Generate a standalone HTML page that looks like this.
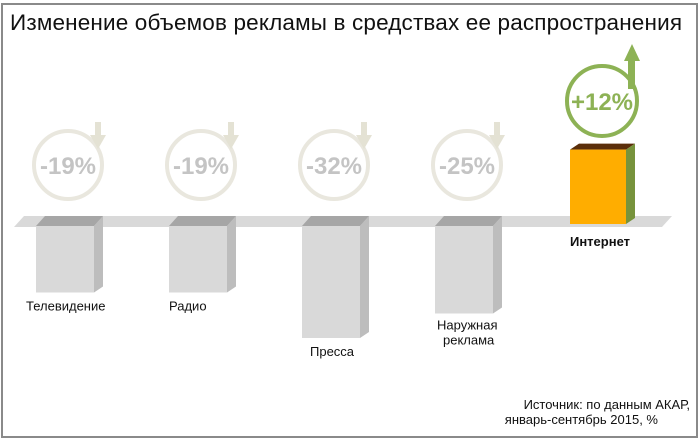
<!DOCTYPE html>
<html><head><meta charset="utf-8"><style>
body{margin:0;background:#fff}
svg{display:block}
text{font-family:"Liberation Sans","DejaVu Sans",sans-serif}
</style></head><body>
<svg width="700" height="440" viewBox="0 0 700 440">
<rect x="2" y="4" width="695" height="433" fill="#fff" stroke="#8a8a8a" stroke-width="2"/>
<text x="10" y="30" font-size="22.5" fill="#111" textLength="672">Изменение объемов рекламы в средствах ее распространения</text>
<polygon points="24,216 672,216 662,227 14,227" fill="#d9d9d9"/>
<g id="marks"></g>
<text x="690" y="409" font-size="13" fill="#111" text-anchor="end">Источник: по данным АКАР,</text>
<text x="658" y="424" font-size="13" fill="#111" text-anchor="end">январь-сентябрь 2015, %</text>
</svg>
<script>
const categories = ["Телевидение","Радио","Пресса","Наружная реклама","Интернет"];
const values = [-19,-19,-32,-25,12];
const valueLabels = ["-19%","-19%","-32%","-25%","+12%"];

const NS="http://www.w3.org/2000/svg";
const g=document.getElementById('marks');
const x0=36, step=133, bw=58, depth=9;
const baseNeg=226, basePos=224;
function yNeg(v){return baseNeg + (-v)*3.5;}
function yPos(v){return basePos - v*6.2;}
function mk(tag,attrs,parent){const e=document.createElementNS(NS,tag);for(const k in attrs)e.setAttribute(k,attrs[k]);(parent||g).appendChild(e);return e;}

categories.forEach((c,i)=>{
  const v=values[i];
  const x=(i===4)?570:x0+i*step;
  const cx=x+bw/2;
  const grp=mk('g',{});
  
  
  if(v<0){
    const yb=yNeg(v);
    const top=mk('polygon',{points:`${x},${baseNeg} ${x+bw},${baseNeg} ${x+bw+depth},${baseNeg-10} ${x+depth},${baseNeg-10}`,fill:'#a6a6a6'},grp);
    
    
    const side=mk('polygon',{points:`${x+bw},${baseNeg} ${x+bw+depth},${baseNeg-10} ${x+bw+depth},${yb-6} ${x+bw},${yb}`,fill:'#bdbdbd'},grp);
    
    
    const front=mk('rect',{x:x,y:baseNeg,width:bw,height:yb-baseNeg,fill:'#d9d9d9'},grp);
    
    
    const lines=c.split(' ');
    const lx = (i===0)?x-10:x;
    const lbl=mk('text',{x:(i===3)?x+4:lx, y:yb+18,'font-size':13,fill:'#111'},grp);
    
    
    if(lines.length>1){
      lines.forEach((l,j)=>{const t=mk('tspan',{x:(j===0)?x+2:x+8,dy:j===0?0:15},lbl);t.textContent=l;});
      lbl.setAttribute('y',yb+16);
    } else lbl.textContent=c;
    if(i===2) lbl.setAttribute('x',x+8);
    const ccx=cx+3, ccy=165, r=34;
    const circ=mk('circle',{cx:ccx,cy:ccy,r:r,fill:'none',stroke:'#e9e7de','stroke-width':4},grp);
    
    
    const ar=mk('polygon',{points:`${ccx+27},${ccy-43} ${ccx+33},${ccy-43} ${ccx+33},${ccy-30} ${ccx+38},${ccy-30} ${ccx+30},${ccy-16} ${ccx+22},${ccy-30} ${ccx+27},${ccy-30}`,fill:'#e4e2d4'},grp);
    
    
    const t=mk('text',{x:ccx,y:ccy+9,'font-size':24,'font-weight':'bold',fill:'#c4c4c4','text-anchor':'middle'},grp);
    
    
    t.textContent=valueLabels[i];
  } else {
    const yt=yPos(v), w=56;
    const top=mk('polygon',{points:`${x},${yt} ${x+w},${yt} ${x+w+9},${yt-6} ${x+9},${yt-6}`,fill:'#5a2e0a'},grp);
    
    
    const side=mk('polygon',{points:`${x+w},${yt} ${x+w+9},${yt-6} ${x+w+9},${basePos-6} ${x+w},${basePos}`,fill:'#77933c'},grp);
    
    
    const front=mk('rect',{x:x,y:yt,width:w,height:basePos-yt,fill:'#ffad00'},grp);
    
    
    const lbl=mk('text',{x:x+30,y:246,'font-size':13,'font-weight':'bold',fill:'#111','text-anchor':'middle'},grp);
    
    
    lbl.textContent=c;
    const ccx=602, ccy=101, r=35;
    const circ=mk('circle',{cx:ccx,cy:ccy,r:r,fill:'none',stroke:'#8db255','stroke-width':4},grp);
    
    
    const ar=mk('polygon',{points:`${ccx+26},${ccy-12} ${ccx+33},${ccy-12} ${ccx+33},${ccy-40} ${ccx+38},${ccy-40} ${ccx+30},${ccy-57} ${ccx+22},${ccy-40} ${ccx+26},${ccy-40}`,fill:'#8db255'},grp);
    
    
    const t=mk('text',{x:ccx,y:ccy+9,'font-size':24,'font-weight':'bold',fill:'#8db255','text-anchor':'middle'},grp);
    
    
    t.textContent=valueLabels[i];
  }
});
</script>
</body></html>
